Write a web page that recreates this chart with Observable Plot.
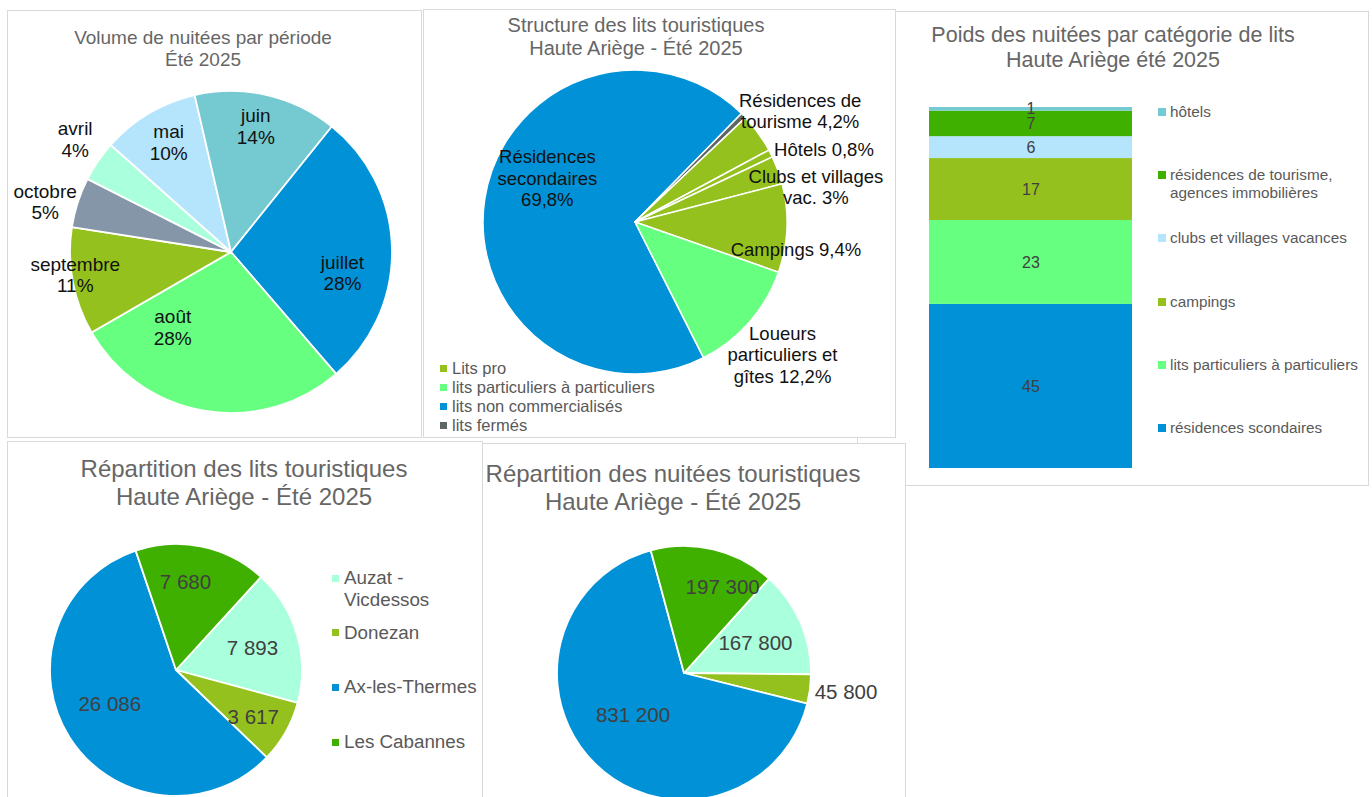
<!DOCTYPE html>
<html><head><meta charset="utf-8">
<script src="https://cdn.jsdelivr.net/npm/d3@7"></script>
<script src="https://cdn.jsdelivr.net/npm/@observablehq/plot@0.6"></script>
<style>
body{margin:0;background:#fff;font-family:"Liberation Sans",Arial,sans-serif;}
#page{position:relative;width:1372px;height:797px;overflow:hidden;background:#fff;}
.panel{position:absolute;box-sizing:border-box;border:1px solid #d9d9d9;background:#fff;overflow:hidden;}
.title{position:absolute;text-align:center;color:#666;white-space:pre;}
.leg{position:absolute;color:#595959;white-space:pre;}
.sw{position:absolute;}
</style></head><body><div id="page"></div><script>
// ---------------- DATA ----------------
const periodMonths = ["avril", "mai", "juin", "juillet", "août", "septembre", "octobre"];
const periodShares = [4.1, 9.8, 14.4, 27.9, 28.0, 10.8, 5.0];

const structCategories = ["Résidences secondaires", "lits fermés", "Résidences de tourisme", "Hôtels", "Clubs et villages vac.", "Campings", "Loueurs particuliers et gîtes"];
const structShares = [69.8, 0.6, 4.2, 0.8, 3.0, 9.4, 12.2];
const structGroups = ["lits non commercialisés", "lits fermés", "Lits pro", "Lits pro", "Lits pro", "Lits pro", "lits particuliers à particuliers"];
const structLabelText = ["Résidences\nsecondaires\n", null, "Résidences de\ntourisme ", "Hôtels ", "Clubs et villages\nvac. ", "Campings ", "Loueurs\nparticuliers et\ngîtes "];
const structLegend = ["Lits pro", "lits particuliers à particuliers", "lits non commercialisés", "lits fermés"];

const weightCategories = ["résidences scondaires", "lits particuliers à particuliers", "campings", "clubs et villages vacances", "résidences de tourisme,\nagences immobilières", "hôtels"];
const weightValues = [45, 23, 17, 6, 7, 1];
const weightPeriod = "Haute Ariège été 2025";

const sectors = ["Auzat - Vicdessos", "Donezan", "Ax-les-Thermes", "Les Cabannes"];
const sectorBeds = [7893, 3617, 26086, 7680];
const sectorNights = [167800, 45800, 831200, 197300];

// ---------------- STYLE ----------------
const FONT = '"Liberation Sans", Arial, sans-serif';
const monthColors = ["#AAFFDC", "#B4E5FD", "#75C9D0", "#0091D7", "#66FF80", "#95C11F", "#8496A8"];
const groupColors = {"Lits pro": "#95C11F", "lits particuliers à particuliers": "#66FF80", "lits non commercialisés": "#0091D7", "lits fermés": "#5E6665"};
const weightColors = ["#0091D7", "#66FF80", "#95C11F", "#B4E5FD", "#40B000", "#75C9D0"];
const sectorColors = ["#AAFFDC", "#95C11F", "#0091D7", "#40B000"];
// label placement: [radius factor, angle nudge in degrees]
const labelPosA = [[1.2, 1.7], [0.79, 1.1], [0.8, -2], [0.7, 11.2], [0.59, 28.6], [0.98, 2.5], [1.2, -2.6]];
const labelPosB = [[0.65, 18], null, [1.31, 1.6], [1.33, 5.6], [1.21, 8.7], [1.07, 7.1], [1.3, 0.7]];
const labelPosD = [[0.63, -0.6], [0.71, 1.4], [0.59, 6.2], [0.71, -6.1]];
const labelPosE = [[0.61, 0], [1.28, -0.9], [0.52, 6.9], [0.75, 10.2]];

const fr = d3.formatLocale({decimal: ",", thousands: "\u00a0", grouping: [3], currency: ["", " €"]});
const fmtInt = fr.format(",d");
const fmtPct1 = fr.format(".1~f");

// ---------------- HELPERS ----------------
const page = document.getElementById("page");
function panel(left, top, w, h, z) {
  const div = document.createElement("div");
  div.className = "panel";
  Object.assign(div.style, {left: left + "px", top: top + "px", width: w + "px", height: h + "px", zIndex: z});
  page.appendChild(div);
  return {div, left: left + 1, top: top + 1, w: w - 2, h: h - 2};
}
function place(p, el, x, y) {
  el.style.left = (x - p.left) + "px";
  el.style.top = (y - p.top) + "px";
  p.div.appendChild(el);
}
function title(p, text, cx, firstY, fontSize, lh) {
  const d = document.createElement("div");
  d.className = "title";
  d.style.fontSize = fontSize + "px";
  d.style.lineHeight = lh + "px";
  d.style.width = "600px";
  d.textContent = text;
  place(p, d, cx - 300, firstY - lh / 2);
}
function legend(p, items, colors, {sx, tx, y0, step, size, fontSize, lh}) {
  items.forEach((t, i) => {
    const y = y0 + i * step;
    const sq = document.createElement("div");
    sq.className = "sw";
    Object.assign(sq.style, {width: size + "px", height: size + "px", background: colors[i]});
    place(p, sq, sx, y - size / 2);
    const el = document.createElement("div");
    el.className = "leg";
    el.style.fontSize = fontSize + "px";
    el.style.lineHeight = lh + "px";
    el.textContent = t;
    place(p, el, tx, y - lh / 2);
  });
}
function pie(p, {values, categories, colors, labels, labelPos, startDeg, cx, cy, r, fontSize, textFill, lineHeight = 1.15, strokeWidth = 1.5}) {
  const start = startDeg * Math.PI / 180;
  const arcs = d3.pie().sort(null).startAngle(start).endAngle(start + 2 * Math.PI)(values);
  const color = Plot.scale({color: {type: "ordinal", domain: categories, range: colors}});
  const lab = [];
  arcs.forEach((a, i) => {
    if (!labels[i] || !labelPos[i]) return;
    const [k, da] = labelPos[i];
    const m = (a.startAngle + a.endAngle) / 2 + da * Math.PI / 180;
    lab.push({x: k * Math.sin(m), y: k * Math.cos(m), text: labels[i]});
  });
  const X = cx - p.left, Y = cy - p.top;
  const chart = Plot.plot({
    width: p.w, height: p.h, margin: 0,
    style: {fontFamily: FONT, background: "transparent", overflow: "visible"},
    x: {domain: [-1, 1], range: [X - r, X + r], axis: null},
    y: {domain: [-1, 1], range: [Y + r, Y - r], axis: null},
    marks: [
      (index, scales) => {
        const x0 = scales.x(0), y0 = scales.y(0), R = scales.x(1) - x0;
        const g = d3.create("svg:g").attr("transform", `translate(${x0},${y0})`);
        const arc = d3.arc().innerRadius(0).outerRadius(R);
        g.selectAll("path").data(arcs).join("path")
          .attr("d", arc)
          .attr("fill", (d, i) => color.apply(categories[i]))
          .attr("stroke", "#fff").attr("stroke-width", strokeWidth).attr("stroke-linejoin", "round");
        return g.node();
      },
      Plot.text(lab, {x: "x", y: "y", text: "text", fontSize, fill: textFill, lineHeight})
    ]
  });
  chart.style.position = "absolute";
  chart.style.left = "0px";
  chart.style.top = "0px";
  p.div.appendChild(chart);
}

// ---------------- PANEL C (bar, behind) ----------------
{
  const p = panel(857, 11, 512, 475, 1);
  title(p, "Poids des nuitées par catégorie de lits\nHaute Ariège été 2025", 1113, 35, 21.5, 25);
  const data = weightCategories.map((c, i) => ({category: c, value: weightValues[i], period: weightPeriod}));
  const total = d3.sum(weightValues);
  const chart = Plot.plot({
    width: p.w, height: p.h, margin: 0,
    style: {fontFamily: FONT, background: "transparent"},
    x: {domain: [weightPeriod], range: [929 - p.left, 1132 - p.left], padding: 0, axis: null},
    y: {domain: [0, total], range: [468 - p.top, 107 - p.top], axis: null},
    color: {domain: weightCategories, range: weightColors},
    marks: [
      Plot.barY(data, Plot.stackY({x: "period", y: "value", fill: "category"})),
      Plot.text(data, Plot.stackY({x: "period", y: "value", text: d => String(d.value), fill: "#404040", fontSize: 16}))
    ]
  });
  chart.style.position = "absolute"; chart.style.left = "0px"; chart.style.top = "0px";
  p.div.appendChild(chart);
  const order = weightCategories.map((c, i) => i).reverse();
  legend(p, order.map(i => weightCategories[i]), order.map(i => weightColors[i]),
    {sx: 1158, tx: 1170, y0: 112, step: 63.2, size: 8, fontSize: 15.3, lh: 18});
}

// ---------------- PANEL A ----------------
{
  const p = panel(7, 10, 415, 428, 2);
  title(p, "Volume de nuitées par période\nÉté 2025", 203, 38, 19, 22);
  pie(p, {
    values: periodShares, categories: periodMonths, colors: monthColors,
    labels: periodMonths.map((m, i) => m + "\n" + Math.round(periodShares[i]) + "%"),
    labelPos: labelPosA, startDeg: 296.9, cx: 231, cy: 252, r: 161,
    fontSize: 19, textFill: "#111", strokeWidth: 1.8
  });
}

// ---------------- PANEL B ----------------
{
  const p = panel(423, 9, 473, 429, 3);
  title(p, "Structure des lits touristiques\nHaute Ariège - Été 2025", 636, 25, 20, 23);
  pie(p, {
    values: structShares, categories: structCategories,
    colors: structGroups.map(g => groupColors[g]),
    labels: structLabelText.map((t, i) => t == null ? null : t + fmtPct1(structShares[i]) + "%"),
    labelPos: labelPosB, startDeg: 153.2, cx: 635, cy: 222, r: 152,
    fontSize: 18.5, textFill: "#111", lineHeight: 1.16, strokeWidth: 1.5
  });
  legend(p, structLegend, structLegend.map(g => groupColors[g]),
    {sx: 440, tx: 452, y0: 368, step: 19.3, size: 7, fontSize: 16.5, lh: 19});
}

// ---------------- PANEL D ----------------
{
  const p = panel(7, 441, 476, 370, 4);
  title(p, "Répartition des lits touristiques\nHaute Ariège - Été 2025", 244, 469, 24, 28);
  pie(p, {
    values: sectorBeds, categories: sectors, colors: sectorColors,
    labels: sectorBeds.map(v => fmtInt(v)),
    labelPos: labelPosD, startDeg: 42.4, cx: 176, cy: 670, r: 126,
    fontSize: 20.5, textFill: "#404040", strokeWidth: 1.8
  });
  legend(p, sectors.map(s => s.replace(" - ", " -\n")), sectorColors,
    {sx: 332, tx: 344, y0: 578, step: 54.7, size: 7, fontSize: 18.8, lh: 22});
}

// ---------------- PANEL E ----------------
{
  const p = panel(482, 443, 424, 370, 5);
  title(p, "Répartition des nuitées touristiques\nHaute Ariège - Été 2025", 673, 474, 24, 28);
  pie(p, {
    values: sectorNights, categories: sectors, colors: sectorColors,
    labels: sectorNights.map(v => fmtInt(v)),
    labelPos: labelPosE, startDeg: 42, cx: 684, cy: 673, r: 127,
    fontSize: 20.5, textFill: "#404040", strokeWidth: 1.8
  });
}
</script></body></html>
